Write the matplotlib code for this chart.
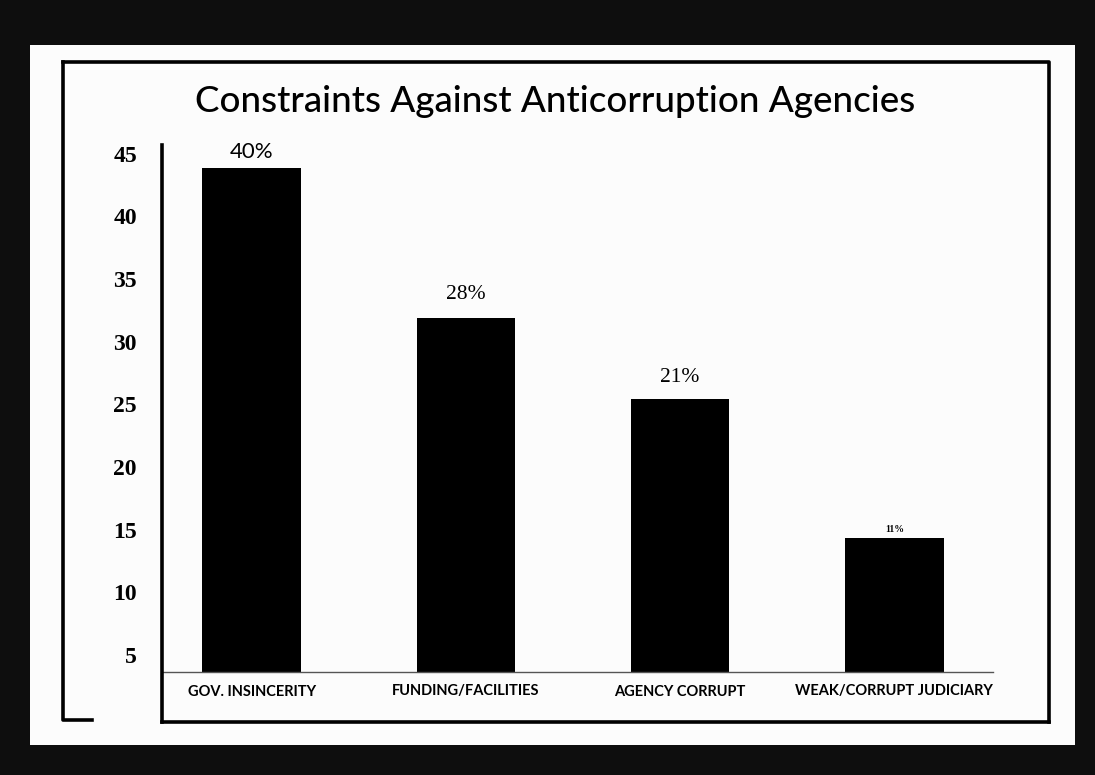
import matplotlib
matplotlib.use("Agg")
import matplotlib.pyplot as plt
from matplotlib.lines import Line2D
from matplotlib.patches import Rectangle

categories = ["GOV. INSINCERITY", "FUNDING/FACILITIES", "AGENCY CORRUPT", "WEAK/CORRUPT JUDICIARY"]
values = [43.9, 31.9, 25.4, 14.3]
pct_labels = ["40%", "28%", "21%", "11%"]
yticks = [5, 10, 15, 20, 25, 30, 35, 40, 45]
title = "Constraints Against Anticorruption Agencies"

W, H = 1095, 775
fig = plt.figure(figsize=(W / 100, H / 100), dpi=100, facecolor="#0e0e0e")

def fx(px):
    return px / W

def fy(py):
    return 1 - py / H

# white paper area
fig.patches.append(Rectangle((fx(30), fy(745)), fx(1075) - fx(30), fy(45) - fy(745),
                             transform=fig.transFigure, facecolor="#fcfcfc", edgecolor="none", zorder=-10))

def fline(xs, ys, lw=2.6):
    fig.lines.append(Line2D([fx(x) for x in xs], [fy(y) for y in ys], transform=fig.transFigure,
                            color="black", linewidth=lw, solid_capstyle="projecting", zorder=5))

# outer frame
fline([63, 1049, 1049], [62, 62, 722])
fline([63, 63, 92], [62, 720, 720])
fline([162, 1049], [722, 722])
fline([162, 162], [145, 722])

ax = fig.add_axes([fx(162), fy(672), fx(993) - fx(162), fy(145) - fy(672)])
ax.set_zorder(1)
ax.set_facecolor("none")
x = list(range(len(categories)))
bars = ax.bar(x, values, width=0.46, color="black", zorder=2)
ax.set_xlim(-0.418, 3.46)
ax.set_ylim(3.64, 45.7)
for s in ["top", "right", "left"]:
    ax.spines[s].set_visible(False)
ax.spines["bottom"].set_color("#555555")
ax.spines["bottom"].set_linewidth(1.0)
ax.spines["bottom"].set_linestyle((0, (2, 1)))

ax.set_yticks(yticks)
ax.set_yticklabels([str(t) for t in yticks], fontfamily="Liberation Serif", fontweight="bold", fontsize=17)
ax.tick_params(axis="y", length=0, pad=18)
ax.set_xticks(x)
ax.set_xticklabels(categories, fontfamily="Lato", fontweight="bold", fontsize=10.5)
ax.tick_params(axis="x", length=0, pad=9)

label_fonts = [
    dict(fontfamily="Lato", fontsize=16),
    dict(fontfamily="Liberation Serif", fontsize=15.5),
    dict(fontfamily="Liberation Serif", fontsize=15.5),
    dict(fontfamily="Liberation Serif", fontsize=7, fontweight="bold"),
]
offsets = [4, 10, 9, 3]
for xi, v, lab, kw, off in zip(x, values, pct_labels, label_fonts, offsets):
    ax.annotate(lab, (xi, v), xytext=(0, off), textcoords="offset points",
                ha="center", va="bottom", color="black", **kw)

fig.text(fx(555), fy(101), title, ha="center", va="center", fontfamily="Lato", fontweight="medium",
         fontsize=26.5, color="black")

fig.savefig("out.png", dpi=100, facecolor=fig.get_facecolor())
